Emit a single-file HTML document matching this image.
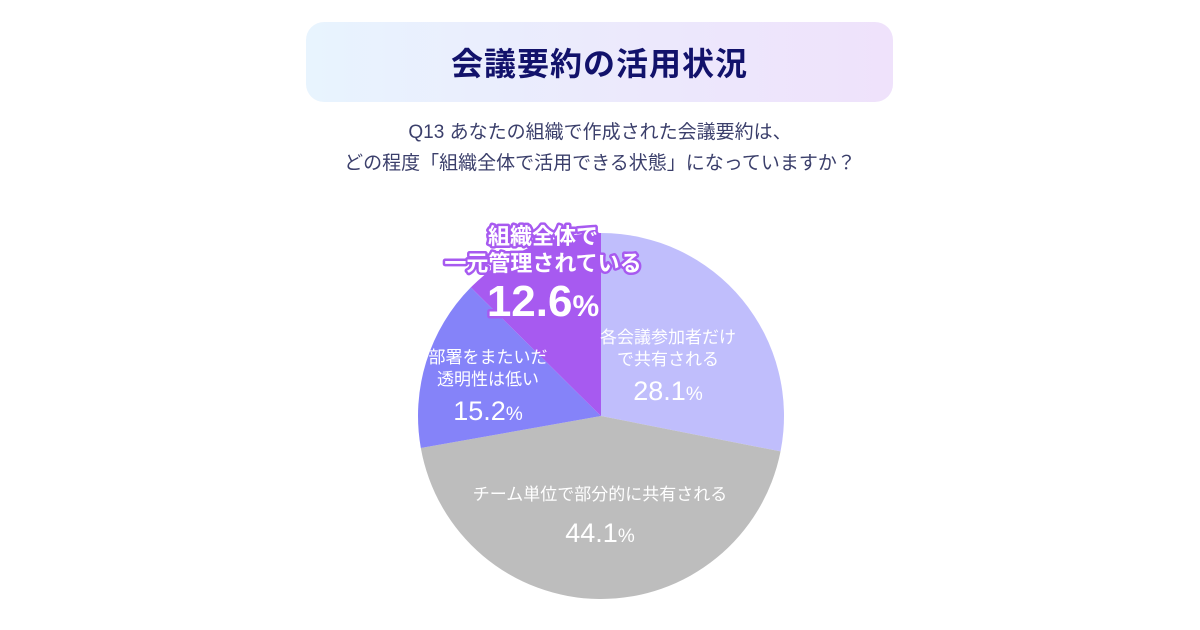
<!DOCTYPE html>
<html><head><meta charset="utf-8">
<style>
body{margin:0;width:1200px;height:630px;background:#fff;font-family:"Liberation Sans","Noto Sans CJK JP",sans-serif;overflow:hidden;position:relative}
#title-box{position:absolute;left:306px;top:22px;width:587px;height:80px;border-radius:18px;background:linear-gradient(90deg,#e8f4fe,#ece8fc 60%,#efe2fb);display:flex;align-items:center;justify-content:center;font-size:32px;font-weight:bold;color:#12126b;letter-spacing:1px}
#subtitle{position:absolute;left:0;width:1200px;top:117px;text-align:center;font-size:19px;line-height:31px;color:#3b3f6b}
svg{position:absolute;left:0;top:0}
</style></head><body>
<div id="title-box">会議要約の活用状況</div>
<div id="subtitle">Q13 あなたの組織で作成された会議要約は、<br>どの程度「組織全体で活用できる状態」になっていますか？</div>
<svg id="chart" width="1200" height="630"></svg>
<script>
const categories=[["各会議参加者だけ","で共有される"],["チーム単位で部分的に共有される"],["部署をまたいだ","透明性は低い"],["組織全体で","一元管理されている"]];
const values=[28.1,44.1,15.2,12.6];
const colors=["#c0befc","#bdbdbd","#8583f9","#a75af0"];
const cx=601,cy=416,r=183;
const svg=document.getElementById('chart');
const NS="http://www.w3.org/2000/svg";
const total=values.reduce((a,b)=>a+b,0);
function pt(a,rr){return [cx+rr*Math.sin(a),cy-rr*Math.cos(a)];}
let acc=0;
values.forEach((v,i)=>{
  const a0=acc/total*2*Math.PI;acc+=v;const a1=acc/total*2*Math.PI;
  const [x0,y0]=pt(a0,r),[x1,y1]=pt(a1,r);
  const p=document.createElementNS(NS,'path');
  p.setAttribute('d',`M${cx},${cy}L${x0},${y0}A${r},${r} 0 ${a1-a0>Math.PI?1:0} 1 ${x1},${y1}Z`);
  p.setAttribute('fill',colors[i]);
  
  
  svg.appendChild(p);
});
function txt(x,y,s,size,weight,stroke){
  const t=document.createElementNS(NS,'text');
  t.setAttribute('x',x);t.setAttribute('y',y);t.setAttribute('text-anchor','middle');
  t.setAttribute('font-size',size);t.setAttribute('font-weight',weight);t.setAttribute('fill','#fff');
  if(stroke){t.setAttribute('stroke',stroke);t.setAttribute('stroke-width','5');t.setAttribute('paint-order','stroke');t.setAttribute('stroke-linejoin','round');}
  t.textContent=s;
  
  
  svg.appendChild(t);return t;
}
const L=[{x:668,y:343,big:false,g:35},{x:600,y:500,big:false,g:42},{x:488,y:363,big:false,g:35},{x:543,y:244,big:true}];
values.forEach((v,i)=>{
  const l=L[i],lines=categories[i];
  if(l.big){
    lines.forEach((s,j)=>txt(l.x,l.y+j*27,s,22,'bold','#a75af0'));
    const t=txt(l.x,l.y+72,v.toFixed(1),44,'bold','#a75af0');
    const sp=document.createElementNS(NS,'tspan');sp.setAttribute('font-size',30);sp.textContent='%';t.appendChild(sp);
  }else{
    lines.forEach((s,j)=>txt(l.x,l.y+j*22,s,17,'normal',null));
    const t=txt(l.x,l.y+(lines.length-1)*22+l.g,v.toFixed(1),27,'normal',null);
    const sp=document.createElementNS(NS,'tspan');sp.setAttribute('font-size',19);sp.textContent='%';t.appendChild(sp);
  }
});
</script>
</body></html>
